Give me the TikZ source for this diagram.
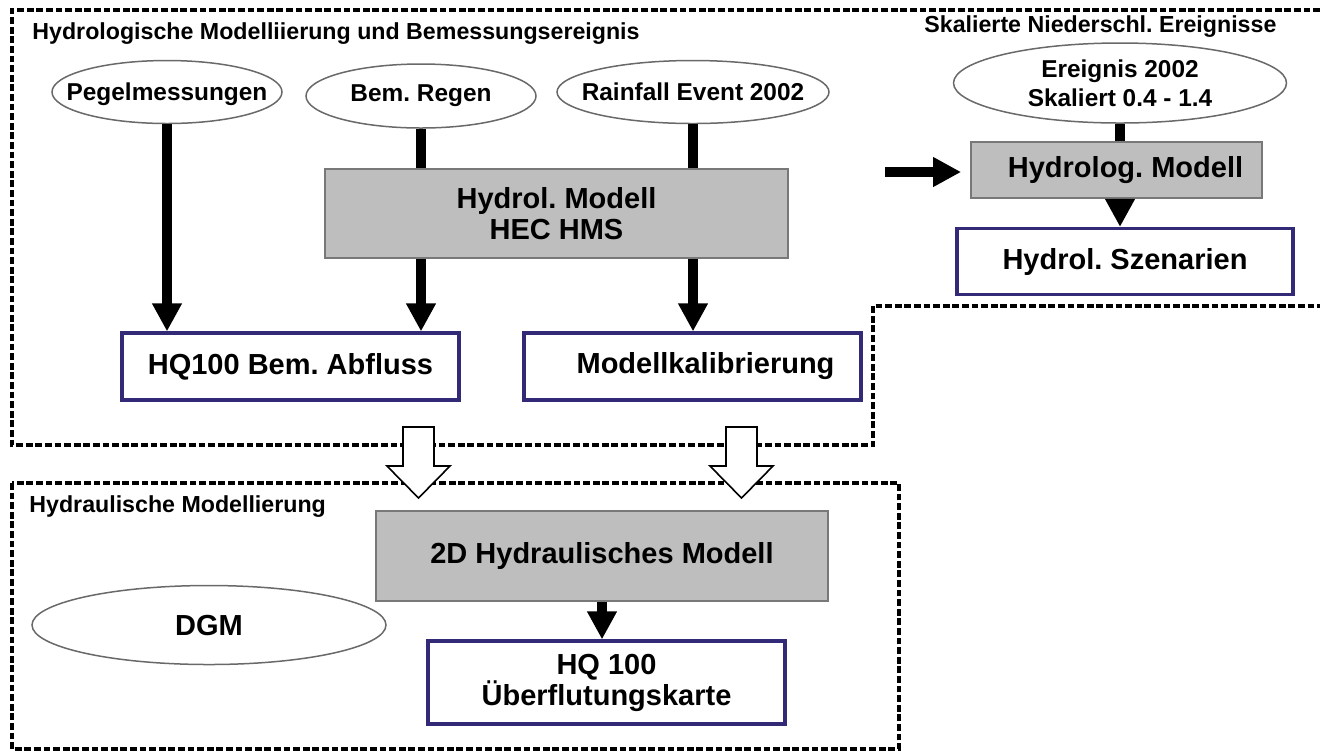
\documentclass[tikz,border=0pt]{standalone}
\usepackage{fontspec}
\setmainfont{Liberation Sans}
\usetikzlibrary{shapes.geometric,arrows.meta}
\definecolor{boxblue}{RGB}{50,42,118}
\definecolor{panelgray}{RGB}{190,190,190}
\definecolor{edgegray}{RGB}{120,120,120}
\definecolor{ovalline}{RGB}{105,105,105}
\frenchspacing
\tikzset{
  region/.style={draw=black, line width=1.6pt, dash pattern=on 3.4pt off 1.4pt},
  heading/.style={font=\bfseries\fontsize{11.6pt}{14pt}\selectfont, inner sep=0pt, anchor=west},
  oval/.style={ellipse, draw=ovalline, line width=0.75pt, fill=white, inner sep=0pt},
  ovaltext/.style={font=\bfseries\fontsize{12.2pt}{14.5pt}\selectfont, align=center, inner sep=0pt},
  bigtext/.style={font=\bfseries\fontsize{14.5pt}{15.5pt}\selectfont, align=center, inner sep=0pt},
  modelbox/.style={rectangle, draw=edgegray, line width=0.9pt, fill=panelgray, bigtext},
  resultbox/.style={rectangle, draw=boxblue, line width=1.6pt, fill=white, bigtext},
  feed/.style={line width=5pt},
  flow/.style={line width=5pt, -{Triangle[width=14pt,length=14pt]}},
  hollow/.style={draw=black, line width=0.8pt, fill=white, line join=miter},
  blockarrow/.pic={
    \draw[hollow] (-15.5,0) -- (15.5,0) -- (15.5,39) -- (31.5,39) -- (0,71)
      -- (-31.5,39) -- (-15.5,39) -- cycle;
  }
}
\begin{document}
\begin{tikzpicture}[x=0.5pt, y=-0.5pt]
  \useasboundingbox (0,0) rectangle (1320,752);

  % group outlines
  \draw[region] (1320,10) -- (12,10) -- (12,445) -- (873,445) -- (873,306) -- (1320,306);
  \draw[region] (12,483) rectangle (899,749);

  % group headings
  \node[heading] (h1) at (32,34) {Hydrologische Modelliierung und Bemessungsereignis};
  \node[heading] (h2) at (924,27) {Skalierte Niederschl. Ereignisse};
  \node[heading] (h3) at (29,507) {Hydraulische Modellierung};

  % inputs
  \node[oval, minimum width=115pt, minimum height=31.5pt,
        label={[ovaltext, yshift=-1pt]center:Pegelmessungen}] (peg) at (167,92) {};
  \node[oval, minimum width=115pt, minimum height=32pt,
        label={[ovaltext]center:Bem. Regen}] (regen) at (421,96) {};
  \node[oval, minimum width=136pt, minimum height=31.5pt,
        label={[ovaltext]center:Rainfall Event 2002}] (rain) at (693,92) {};
  \node[oval, minimum width=166.5pt, minimum height=40pt,
        label={[ovaltext]center:Ereignis 2002\\Skaliert 0.4 - 1.4}] (ereig) at (1120,83) {};
  \node[oval, minimum width=177pt, minimum height=39.5pt,
        label={[bigtext]center:DGM}] (dgm) at (209,625) {};

  % models
  \node[modelbox, minimum width=231.5pt, minimum height=44.5pt] (hms) at (556.5,213.5)
    {Hydrol. Modell\\HEC HMS};
  \node[modelbox, minimum width=145.5pt, minimum height=28pt] (hydrolog) at (1116.5,170)
    {\hspace*{9pt}Hydrolog. Modell};
  \node[modelbox, minimum width=226pt, minimum height=45pt] (hyd2d) at (602,556)
    {2D Hydraulisches Modell};

  % results
  \node[resultbox, minimum width=168.5pt, minimum height=33.5pt] (hqa) at (290.5,366.5)
    {HQ100 Bem. Abfluss};
  \node[resultbox, minimum width=168.5pt, minimum height=33.5pt] (kal) at (692.5,366.5)
    {\hspace*{13pt}Modellkalibrierung};
  \node[resultbox, minimum width=168pt, minimum height=33pt] (szen) at (1125,261.5)
    {Hydrol. Szenarien};
  \node[resultbox, minimum width=178.5pt, minimum height=41.5pt] (hqk) at (606.5,682.5)
    {HQ 100\\Überflutungskarte};

  % flows in the hydrological part
  \draw[flow] (peg.south) -- (peg.south |- hqa.north);
  \draw[feed] (regen.south) -- (regen.south |- hms.north);
  \draw[flow] (regen.south |- hms.south) -- (regen.south |- hqa.north);
  \draw[feed] (rain.south) -- (rain.south |- hms.north);
  \draw[flow] (rain.south |- hms.south) -- (rain.south |- kal.north);

  % scaled events
  \draw[feed] (ereig.south) -- (ereig.south |- hydrolog.north);
  \draw[flow] (ereig.south |- hydrolog.south) -- (ereig.south |- szen.north);
  \coordinate (inlet) at (885,172);
  \draw[flow, shorten >=4.5pt] (inlet) -- (inlet -| hydrolog.west);

  % hydraulic part
  \draw[flow] (hyd2d.south) -- (hyd2d.south |- hqk.north);

  % transfer into the hydraulic model
  \coordinate (t1) at (418.5,427);
  \coordinate (t2) at (741.5,427);
  \pic at (t1) {blockarrow};
  \pic at (t2) {blockarrow};
\end{tikzpicture}
\end{document}
